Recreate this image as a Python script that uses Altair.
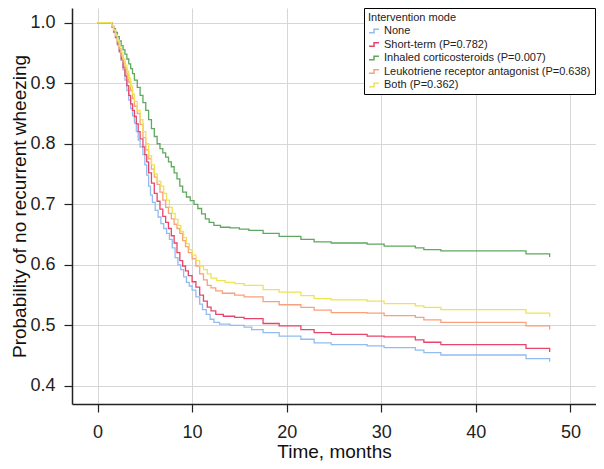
import altair as alt
import pandas as pd

groups = ["None", "Short-term (P=0.782)", "Inhaled corticosteroids (P=0.007)",
          "Leukotriene receptor antagonist (P=0.638)", "Both (P=0.362)"]
colors = ["#92bcf0", "#e8456a", "#5fa85f", "#f9a07c", "#efe352"]

x_ticks = [0, 10, 20, 30, 40, 50]
y_ticks = [0.4, 0.5, 0.6, 0.7, 0.8, 0.9, 1.0]

# shared late event times
late_t = [17.5, 19.2, 21.5, 22.9, 24.7, 28.5, 30.3, 33.6, 34.5, 36.3, 45.3, 47.8]

none_t = [0, 1.5, 1.7, 1.9, 2.1, 2.3, 2.5, 2.7, 2.9, 3.1, 3.3, 3.5, 3.7, 3.9, 4.1, 4.3, 4.5, 4.8,
          5.0, 5.2, 5.4, 5.6, 5.8, 6.1, 6.4, 6.7, 7.0, 7.3, 7.6, 7.9, 8.2, 8.5, 8.8, 9.1, 9.4, 9.7,
          10.0, 10.4, 10.8, 11.1, 11.5, 11.9, 12.3, 12.9, 14.0, 15.5, 16.3] + late_t
none_s = [1.0, 0.993, 0.984, 0.975, 0.963, 0.951, 0.938, 0.922, 0.905, 0.888, 0.872, 0.858, 0.846,
          0.834, 0.82, 0.806, 0.795, 0.782, 0.765, 0.748, 0.73, 0.715, 0.703, 0.69, 0.679, 0.668,
          0.66, 0.652, 0.642, 0.628, 0.612, 0.6, 0.592, 0.58, 0.571, 0.565, 0.558, 0.547, 0.535,
          0.526, 0.518, 0.51, 0.505, 0.502, 0.5, 0.497, 0.493,
          0.488, 0.482, 0.477, 0.471, 0.468, 0.466, 0.463, 0.459, 0.455, 0.451, 0.445, 0.44]

short_t = [0, 1.5, 1.7, 1.9, 2.1, 2.3, 2.5, 2.7, 2.9, 3.1, 3.3, 3.5, 3.7, 3.9, 4.1, 4.3, 4.5, 4.8,
           5.0, 5.2, 5.4, 5.7, 6.0, 6.3, 6.6, 6.9, 7.2, 7.5, 7.8, 8.1, 8.4, 8.7, 9.0, 9.3, 9.6,
           10.0, 10.4, 10.8, 11.2, 11.6, 12.0, 12.5, 13.3, 14.5, 15.5] + late_t
short_s = [1.0, 0.993, 0.985, 0.976, 0.965, 0.953, 0.94, 0.926, 0.912, 0.896, 0.88, 0.866, 0.855,
           0.845, 0.833, 0.82, 0.808, 0.795, 0.782, 0.77, 0.752, 0.735, 0.718, 0.705, 0.692, 0.68,
           0.67, 0.66, 0.648, 0.636, 0.62, 0.607, 0.598, 0.59, 0.582, 0.572, 0.563, 0.55, 0.54,
           0.53, 0.524, 0.518, 0.515, 0.513, 0.511,
           0.503, 0.499, 0.493, 0.488, 0.485, 0.482, 0.481, 0.476, 0.472, 0.468, 0.462, 0.456]

ics_t = [0, 1.5, 1.7, 1.9, 2.1, 2.3, 2.5, 2.7, 2.9, 3.1, 3.3, 3.5, 3.7, 3.9, 4.2, 4.5, 4.8, 5.1,
         5.4, 5.7, 6.0, 6.3, 6.6, 6.9, 7.2, 7.5, 7.8, 8.1, 8.4, 8.7, 9.0, 9.4, 9.8, 10.2, 10.6,
         11.0, 11.4, 11.8, 12.3, 13.0, 14.0, 15.0, 16.0] + late_t
ics_s = [1.0, 0.995, 0.99, 0.984, 0.977, 0.97, 0.962, 0.955, 0.948, 0.94, 0.932, 0.924, 0.916,
         0.905, 0.893, 0.88, 0.868, 0.855, 0.84, 0.825, 0.812, 0.8, 0.792, 0.785, 0.778, 0.77,
         0.762, 0.752, 0.742, 0.73, 0.72, 0.712, 0.706, 0.7, 0.693, 0.684, 0.676, 0.67, 0.665,
         0.662, 0.661, 0.659, 0.657,
         0.652, 0.647, 0.642, 0.638, 0.636, 0.634, 0.631, 0.628, 0.625, 0.623, 0.618, 0.613]

ltra_t = [0, 1.5, 1.7, 1.9, 2.1, 2.3, 2.5, 2.7, 2.9, 3.1, 3.3, 3.5, 3.7, 3.9, 4.2, 4.5, 4.8, 5.1,
          5.4, 5.7, 6.0, 6.3, 6.6, 6.9, 7.2, 7.5, 7.8, 8.1, 8.4, 8.7, 9.0, 9.3, 9.6, 10.0, 10.4,
          10.8, 11.2, 11.6, 12.0, 12.5, 13.2, 14.5, 15.5] + late_t
ltra_s = [1.0, 0.994, 0.987, 0.978, 0.968, 0.957, 0.945, 0.935, 0.925, 0.915, 0.902, 0.888, 0.875,
          0.862, 0.85, 0.832, 0.81, 0.79, 0.775, 0.758, 0.745, 0.733, 0.72, 0.707, 0.695, 0.685,
          0.676, 0.667, 0.66, 0.652, 0.64, 0.63, 0.62, 0.61, 0.598, 0.585, 0.575, 0.566, 0.562,
          0.557, 0.553, 0.55, 0.547,
          0.539, 0.534, 0.5295, 0.525, 0.521, 0.52, 0.516, 0.513, 0.509, 0.505, 0.499, 0.493]

both_t = [0, 1.5, 1.7, 1.9, 2.1, 2.3, 2.5, 2.7, 2.9, 3.1, 3.3, 3.5, 3.7, 3.9, 4.2, 4.5, 4.8, 5.1,
          5.4, 5.7, 6.0, 6.3, 6.7, 7.0, 7.3, 7.6, 7.9, 8.2, 8.5, 8.8, 9.1, 9.4, 9.7, 10.0, 10.4,
          10.8, 11.2, 11.6, 12.0, 12.6, 13.5, 14.5, 15.5] + late_t
both_s = [1.0, 0.995, 0.988, 0.98, 0.971, 0.961, 0.951, 0.94, 0.93, 0.92, 0.908, 0.895, 0.882,
          0.87, 0.855, 0.84, 0.82, 0.8, 0.78, 0.765, 0.75, 0.738, 0.73, 0.718, 0.707, 0.695,
          0.685, 0.675, 0.665, 0.655, 0.645, 0.635, 0.625, 0.616, 0.607, 0.598, 0.592, 0.585,
          0.578, 0.574, 0.571, 0.569, 0.566,
          0.559, 0.555, 0.549, 0.544, 0.542, 0.54, 0.536, 0.532, 0.5295, 0.526, 0.52, 0.514]

series = [(groups[0], none_t, none_s), (groups[1], short_t, short_s),
          (groups[2], ics_t, ics_s), (groups[3], ltra_t, ltra_s), (groups[4], both_t, both_s)]

rows = []
for g, ts, ss in series:
    for i, (t, s) in enumerate(zip(ts, ss)):
        rows.append({"group": g, "time": t, "surv": s, "order": i})
df = pd.DataFrame(rows)

FONT = "Liberation Sans"

chart = alt.Chart(df).mark_line(interpolate="step-after", strokeWidth=1.3).encode(
    x=alt.X("time:Q",
            scale=alt.Scale(domain=[-2.7, 52.7], nice=False, zero=False),
            axis=alt.Axis(values=x_ticks, title="Time, months", format="d",
                          labelPadding=11,
                          titleY=53, titleBaseline="alphabetic")),
    y=alt.Y("surv:Q",
            scale=alt.Scale(domain=[0.37, 1.0243], nice=False, zero=False),
            axis=alt.Axis(values=y_ticks, format=".1f",
                          title="Probability of no recurrent wheezing",
                          titleX=-47, titleY=198, titleBaseline="alphabetic")),
    color=alt.Color("group:N",
                    scale=alt.Scale(domain=groups, range=colors),
                    legend=alt.Legend(orient="none", legendX=292, legendY=0,
                                      title="Intervention mode",
                                      titleFontSize=11, titleFontWeight="normal",
                                      titleFont=FONT, titleColor="#222",
                                      labelFontSize=11, labelFont=FONT, labelColor="#222",
                                      labelLimit=400,
                                      strokeColor="black", fillColor="white",
                                      padding=4, rowPadding=2.5, titlePadding=2,
                                      symbolType="M-1,0.35H0V-0.35H1",
                                      symbolSize=100, symbolStrokeWidth=1.5,
                                      labelOffset=4)),
    order="order:Q",
).properties(
    width=524, height=396,
    autosize=alt.AutoSizeParams(type="none"),
    padding={"left": 64, "top": 0, "right": 0, "bottom": 57},
).configure_axis(
    labelFont=FONT, titleFont=FONT, labelFontSize=18, titleFontSize=19,
    titleFontWeight="normal", labelColor="#222", titleColor="#111",
    grid=True, gridColor="#d6d6d6", gridWidth=1,
    domainColor="#222", domainWidth=1.5, tickColor="#222", tickWidth=1.2,
    tickSize=8, labelPadding=9,
).configure_view(stroke=None)

chart.save("out.html", embed_options={"renderer": "svg", "actions": False})
